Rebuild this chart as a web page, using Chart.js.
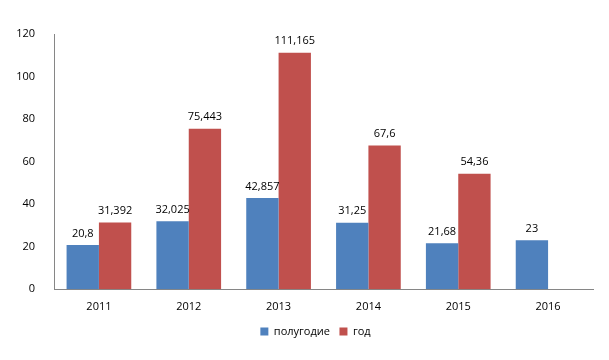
<!DOCTYPE html>
<html>
<head>
<meta charset="utf-8">
<script src="https://cdn.jsdelivr.net/npm/chart.js@4.4.0/dist/chart.umd.min.js"></script>
<style>
  html, body { margin: 0; padding: 0; background: #fff; }
  #wrap { width: 609px; height: 360px; }
</style>
</head>
<body>
<div id="wrap"><canvas id="chart1"></canvas></div>
<script>
// data
const years = ["2011", "2012", "2013", "2014", "2015", "2016"];
const halfYear = [20.8, 32.025, 42.857, 31.25, 21.68, 23];
const fullYear = [31.392, 75.443, 111.165, 67.6, 54.36, null];
const yTicks = [0, 20, 40, 60, 80, 100, 120];

const fontFam = "'Open Sans', 'DejaVu Sans', sans-serif";

// value labels above bars, with comma as decimal sign
const valueLabels = {
  id: 'valueLabels',
  afterDatasetsDraw(chart) {
    const ctx = chart.ctx;
    ctx.save();
    ctx.font = '11px ' + fontFam;
    ctx.fillStyle = '#000';
    ctx.textAlign = 'center';
    ctx.textBaseline = 'bottom';
    chart.data.datasets.forEach((ds, i) => {
      const meta = chart.getDatasetMeta(i);
      meta.data.forEach((bar, j) => {
        const v = ds.data[j];
        if (v === null || v === undefined) return;
        ctx.fillText(String(v).replace('.', ','), bar.x, bar.y - 6);
      });
    });
    ctx.restore();
  }
};

// the original legend sits a bit right of the canvas centre
const legendShift = {
  id: 'legendShift',
  afterLayout(chart) {
    if (chart.legend) {
      chart.legend.left += 19;
      chart.legend.right += 19;
    }
  }
};

const config = {
  type: 'bar',
  data: {
    labels: years,
    datasets: [
      {
        label: 'полугодие',
        data: halfYear,
        backgroundColor: '#4F81BD',
        borderWidth: 0
      },
      {
        label: 'год',
        data: fullYear,
        backgroundColor: '#C0504D',
        borderWidth: 0
      }
    ]
  },
  options: {
    responsive: true,
    maintainAspectRatio: false,
    animation: false,
    layout: {
      padding: { top: 34, right: 16, left: 0, bottom: 13 }
    },
    datasets: {
      bar: { barPercentage: 1, categoryPercentage: 0.72 }
    },
    scales: {
      x: {
        grid: { display: false },
        border: { color: '#868686' },
        ticks: { color: '#000', font: { family: fontFam, size: 11 }, padding: 3 }
      },
      y: {
        min: 0,
        max: 120,
        afterBuildTicks: (axis) => { axis.ticks = yTicks.map(v => ({ value: v })); },
        afterFit: (axis) => { axis.width = 54; },
        grid: { display: false },
        border: { color: '#868686' },
        ticks: { color: '#000', font: { family: fontFam, size: 11 }, padding: 11 }
      }
    },
    plugins: {
      legend: {
        position: 'bottom',
        labels: {
          boxWidth: 8,
          boxHeight: 8,
          padding: 9.5,
          color: '#000',
          font: { family: fontFam, size: 11 }
        }
      },
      tooltip: { enabled: false }
    }
  },
  plugins: [valueLabels, legendShift]
};

new Chart(document.getElementById('chart1'), config);
</script>
</body>
</html>
